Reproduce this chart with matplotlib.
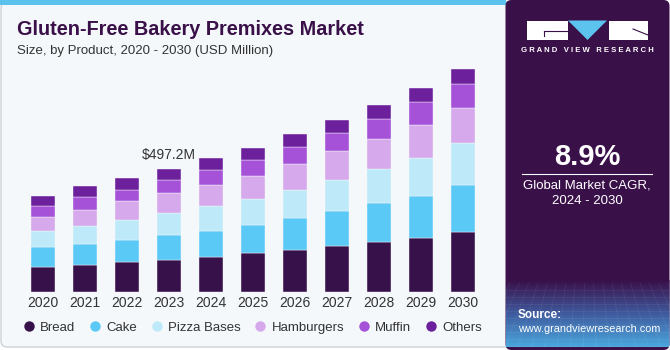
import numpy as np
import matplotlib
matplotlib.use("Agg")
import matplotlib.pyplot as plt
from matplotlib.patches import FancyBboxPatch, Rectangle, Polygon
from matplotlib.lines import Line2D

plt.rcParams['font.family'] = ['Liberation Sans', 'DejaVu Sans']

# data (USD Million)
years = ['2020', '2021', '2022', '2023', '2024', '2025', '2026', '2027', '2028', '2029', '2030']
bread = [102, 108, 120, 129.3, 140, 156, 170, 186, 201, 219, 244]
cake = [78, 86, 89, 102.3, 108, 114, 129, 141, 159, 171, 189]
pizza_bases = [65, 74, 81, 87.3, 100, 105, 114, 127, 137, 150, 169]
hamburgers = [59, 63, 76, 80.8, 84, 93, 105, 115, 121, 137, 143]
muffin = [44, 54, 46, 51.3, 62, 66, 67, 74, 81, 89, 97]
others = [39, 43, 47, 46.2, 47, 50, 55, 51, 57, 59, 59]
labels = ['Bread', 'Cake', 'Pizza Bases', 'Hamburgers', 'Muffin', 'Others']
colors = ['#37114a', '#5bc9f6', '#bde9f9', '#d5a9ec', '#a551d8', '#6d209c']
label_year = '2023'
label_text = '$497.2M'
cagr = '8.9%'

W, H = 670, 350
fig = plt.figure(figsize=(W / 100, H / 100), dpi=100)
fig.patch.set_facecolor('white')

# decoration layer in pixel coords
bg = fig.add_axes([0, 0, 1, 1])
bg.set_xlim(0, W)
bg.set_ylim(H, 0)
bg.axis('off')

card = FancyBboxPatch((1, 2), 515, 345, boxstyle='round,pad=0,rounding_size=6',
                      facecolor='#f4f8fb', edgecolor='#cdd2d6', linewidth=1)
bg.add_patch(card)
bg.add_patch(Rectangle((0, 0), 506, 5, facecolor='#5cc3ee', edgecolor='none'))

panel = FancyBboxPatch((505.5, 0), 164, 350, boxstyle='round,pad=0,rounding_size=6',
                       facecolor='#3a1049', edgecolor='none')
bg.add_patch(panel)
# gradient at the bottom of the panel
grad = np.linspace(0, 1, 100)[:, None]
cmap = matplotlib.colors.LinearSegmentedColormap.from_list('g', ['#3a1049', '#3f5a9e', '#4aa6dc'])
im = bg.imshow(grad, extent=(505.5, 669, 347, 280), cmap=cmap, aspect='auto', zorder=2)
im.set_clip_path(panel)
for yy in np.linspace(290, 346, 9):
    bg.plot([506, 669], [yy, yy], color='white', alpha=0.08, lw=0.5, zorder=3)
for xx in np.linspace(510, 668, 18):
    bg.plot([xx, 587 + (xx - 587) * 1.4], [283, 347], color='white', alpha=0.08, lw=0.5, zorder=3)

# logo
bg.add_patch(Rectangle((527, 20.5), 41, 19, facecolor='white', edgecolor='none', zorder=4))
bg.add_patch(Rectangle((609, 20.5), 39, 19, facecolor='white', edgecolor='none', zorder=4))
bg.add_patch(Polygon([(568, 20.5), (607, 20.5), (587.5, 40)], facecolor='#5cc3ee', edgecolor='none', zorder=4))
bg.plot([544, 568], [30.5, 30.5], color='#3a1049', lw=0.8, zorder=5)
bg.plot([544, 544], [30.5, 36], color='#3a1049', lw=0.8, zorder=5)
bg.plot([633, 648], [29, 35], color='#3a1049', lw=0.8, zorder=5)
bg.text(587.5, 51, 'G R A N D   V I E W   R E S E A R C H', color='white', fontsize=5.6, fontweight='bold',
        ha='center', va='center', zorder=5)

bg.text(587, 157, cagr, color='white', fontsize=21, fontweight='bold', ha='center', va='center', zorder=5)
bg.plot([522, 652], [173.5, 173.5], color='white', lw=0.8, zorder=5)
bg.text(587, 185, 'Global Market CAGR,', color='white', fontsize=9.5, ha='center', va='center', zorder=5)
bg.text(587, 201, '2024 - 2030', color='white', fontsize=9.5, ha='center', va='center', zorder=5)
bg.text(518, 315, 'Source:', color='white', fontsize=8.5, fontweight='bold', ha='left', va='center', zorder=5)
bg.text(518, 329, 'www.grandviewresearch.com', color='white', fontsize=7.8, ha='left', va='center', zorder=5)

# titles
bg.text(17, 35, 'Gluten-Free Bakery Premixes Market', color='#3a1049', fontsize=14.3,
        fontweight='bold', ha='left', va='baseline')
bg.text(17, 54, 'Size, by Product, 2020 - 2030 (USD Million)', color='#333333', fontsize=9.5,
        ha='left', va='baseline')

# chart
ax = fig.add_axes([22 / W, 1 - 292 / H, 461.7 / W, (292 - 44.6) / H])
ax.set_facecolor('none')
x = np.arange(len(years))
series = [bread, cake, pizza_bases, hamburgers, muffin, others]
bottom = np.zeros(len(years))
for vals, c in zip(series, colors):
    ax.bar(x, vals, 0.58, bottom=bottom, color=c, edgecolor='#f4f8fb', linewidth=0.3)
    bottom += np.array(vals)

i = years.index(label_year)
ax.text(x[i], bottom[i] + 30, label_text, ha='center', va='bottom', fontsize=10, color='#333333')

ax.set_xlim(-0.5, len(years) - 0.5)
ax.set_ylim(0, 1000)
ax.set_xticks(x)
ax.set_xticklabels(years, fontsize=10, color='#333333')
ax.tick_params(axis='x', length=0, pad=3)
ax.set_yticks([])
for s in ax.spines.values():
    s.set_visible(False)

handles = [Line2D([], [], marker='o', linestyle='none', markersize=7.5, markerfacecolor=c,
                  markeredgecolor='none') for c in colors]
fig.legend(handles, labels, loc='center', bbox_to_anchor=(252 / W, 1 - 327.5 / H), ncol=6,
           frameon=False, fontsize=9.5, handletextpad=0.35, columnspacing=1.0,
           labelcolor='#333333', handlelength=1.0)

fig.savefig('out.png', dpi=100)
